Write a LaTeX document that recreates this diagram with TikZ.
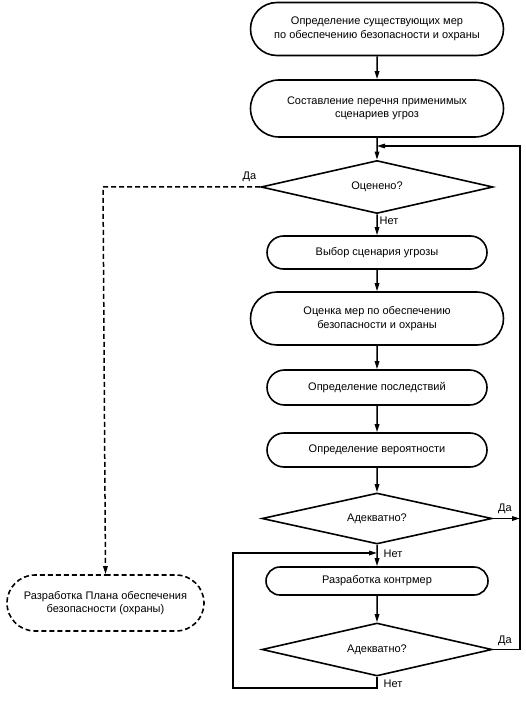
\documentclass[tikz,border=0pt]{standalone}
\usepackage{fontspec}
\setmainfont{Liberation Sans}
\usetikzlibrary{shapes.geometric,shapes.misc,arrows.meta}
\begin{document}
\begin{tikzpicture}[x=1pt,y=-1pt,
  every node/.style={font=\fontsize{11}{13.5}\selectfont},
  box/.style={draw,rounded rectangle,line width=1.6pt,align=center,inner sep=0pt},
  dbox/.style={box,dash pattern=on 5pt off 3pt},
  dia/.style={draw,diamond,line width=1.6pt,inner sep=0pt,aspect=4},
  arr/.style={line width=1.5pt,-{Triangle[length=8pt,width=4.5pt]}},
  lbl/.style={inner sep=0pt}]
\useasboundingbox (0,0) rectangle (526,703);
\node[box,minimum width=253pt,minimum height=53pt] (n1) at (377,29) {Определение существующих мер\\по обеспечению безопасности и охраны};
\node[box,minimum width=253pt,minimum height=57pt] (n2) at (377,108.5) {Составление перечня применимых\\сценариев угроз};
\node[dia,minimum width=232pt,minimum height=53pt] (d1) at (377,187) {Оценено?};
\node[box,minimum width=220pt,minimum height=33pt] (n3) at (377,252.5) {Выбор сценария угрозы};
\node[box,minimum width=253pt,minimum height=53pt] (n4) at (377,318.5) {Оценка мер по обеспечению\\безопасности и охраны};
\node[box,minimum width=220pt,minimum height=35pt] (n5) at (377,387.5) {Определение последствий};
\node[box,minimum width=220pt,minimum height=34pt] (n6) at (377,450) {Определение вероятности};
\node[dia,minimum width=230pt,minimum height=51pt] (d2) at (377,518.5) {Адекватно?};
\node[box,minimum width=222pt,minimum height=28pt] (n7) at (377,581) {Разработка контрмер};
\node[dia,minimum width=230pt,minimum height=53pt] (d3) at (377,649.5) {Адекватно?};
\node[dbox,minimum width=197pt,minimum height=56pt] (n8) at (105.5,603) {Разработка Плана обеспечения\\безопасности (охраны)};

\coordinate (top) at (377,146);
\coordinate (rt) at (520,146);
\coordinate (r2) at (520,518.5);
\coordinate (r3) at (520,649.5);
\coordinate (lp) at (377,553);
\coordinate (bb) at (377,688);
\coordinate (bl) at (233,688);
\coordinate (tl) at (233,553);
\coordinate (dl) at (103,187);

\draw[arr] (n1) -- (n2);
\draw[arr] (n2) -- (d1);
\draw[arr] (d1) -- (n3);
\draw[arr] (n3) -- (n4);
\draw[arr] (n4) -- (n5);
\draw[arr] (n5) -- (n6);
\draw[arr] (n6) -- (d2);
\draw[arr] (d2) -- (n7);
\draw[arr] (n7) -- (d3);
\draw[arr] (d2.east) -- (r2);
\draw[arr] (d3.east) -- (r3) -- (rt) -- (top);
\draw[arr] (d3.south) -- (bb) -- (bl) -- (tl) -- (lp);
\draw[arr,dash pattern=on 5pt off 3pt] (d1.west) -- (dl) -- (n8.north);

\node[lbl] at (249.5,177) {Да};
\node[lbl] at (389,221) {Нет};
\node[lbl] at (505,509) {Да};
\node[lbl] at (393,554) {Нет};
\node[lbl] at (505,641) {Да};
\node[lbl] at (393,684) {Нет};
\end{tikzpicture}
\end{document}
